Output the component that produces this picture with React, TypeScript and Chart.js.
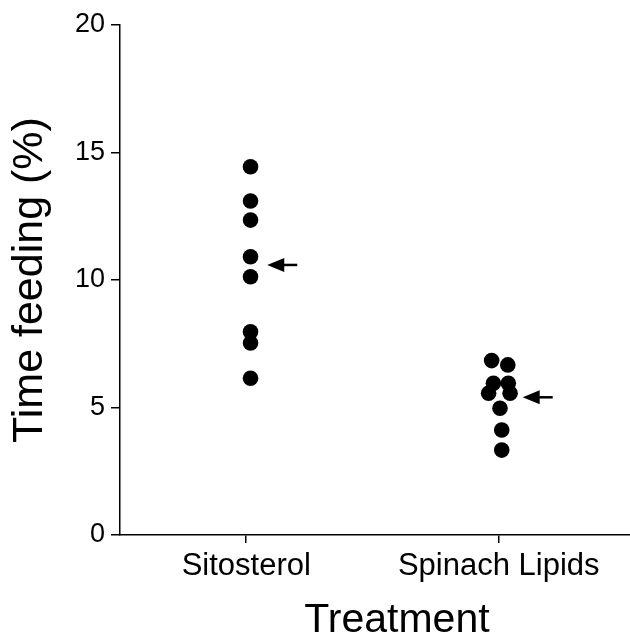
import React, { useEffect, useRef } from "react";
import { Chart, registerables } from "chart.js";

Chart.register(...registerables);

const categories = ["Sitosterol", "Spinach Lipids"];
const yTicks = [0, 5, 10, 15, 20];

const sitosterolValues = [14.44, 13.1, 12.35, 10.91, 10.13, 7.97, 7.53, 6.15];
const sitosterolJitter = [0.017, 0.017, 0.017, 0.017, 0.017, 0.017, 0.017, 0.017];

const spinachValues = [6.84, 6.67, 5.95, 5.95, 5.56, 5.56, 4.97, 4.12, 3.33];
const spinachJitter = [-0.028, 0.036, -0.021, 0.038, -0.04, 0.045, 0.005, 0.012, 0.012];

const meanValues = [10.59, 5.4];

const FONT = "'Liberation Sans', Arial, Helvetica, sans-serif";

const arrowPlugin = {
  id: "meanArrows",
  afterDatasetsDraw(chart: any) {
    const { ctx, scales } = chart;
    const xs = scales.x;
    const ys = scales.y;
    ctx.save();
    ctx.fillStyle = "#000";
    ctx.strokeStyle = "#000";
    meanValues.forEach((v, i) => {
      const cx = xs.getPixelForValue(i + 1);
      const y = ys.getPixelForValue(v);
      const tip = cx + 21 + (i === 1 ? 3 : 0);
      const headLen = 17;
      const tail = tip + 30;
      ctx.lineWidth = 2.5;
      ctx.beginPath();
      ctx.moveTo(tip + headLen - 2, y);
      ctx.lineTo(tail, y);
      ctx.stroke();
      ctx.beginPath();
      ctx.moveTo(tip, y);
      ctx.lineTo(tip + headLen, y - 7);
      ctx.lineTo(tip + headLen, y + 7);
      ctx.closePath();
      ctx.fill();
    });
    ctx.restore();
  },
};

const xTitlePlugin = {
  id: "xTitle",
  afterDraw(chart: any) {
    const { ctx, chartArea } = chart;
    ctx.save();
    ctx.fillStyle = "#000";
    ctx.font = `41px ${FONT}`;
    ctx.textAlign = "center";
    ctx.textBaseline = "alphabetic";
    const x = chartArea.left + (chartArea.right - chartArea.left) * 0.543;
    ctx.fillText("Treatment", x, chartArea.bottom + 97);
    ctx.restore();
  },
};

export default function App() {
  const ref = useRef<HTMLCanvasElement>(null);
  useEffect(() => {
    document.body.style.margin = "0";
    if (!ref.current) return;
    const chart = new Chart(ref.current, {
      type: "scatter",
      data: {
        datasets: [
          {
            label: categories[0],
            data: sitosterolValues.map((v, i) => ({ x: 1 + sitosterolJitter[i], y: v })),
            backgroundColor: "#000",
            borderWidth: 0,
            pointRadius: 7.8,
            pointHoverRadius: 7.8,
          },
          {
            label: categories[1],
            data: spinachValues.map((v, i) => ({ x: 2 + spinachJitter[i], y: v })),
            backgroundColor: "#000",
            borderWidth: 0,
            pointRadius: 7.8,
            pointHoverRadius: 7.8,
          },
        ],
      },
      options: {
        responsive: false,
        animation: false,
        events: [],
        layout: { autoPadding: false, padding: { top: 25, right: 0, left: 0, bottom: 0 } },
        plugins: { legend: { display: false }, tooltip: { enabled: false }, title: { display: false } },
        scales: {
          x: {
            type: "linear",
            min: 0.5,
            max: 2.52,
            afterBuildTicks: (s: any) => {
              s.ticks = categories.map((_, i) => ({ value: i + 1 }));
            },
            afterFit: (s: any) => {
              s.height = 104;
            },
            ticks: {
              color: "#000",
              font: { family: FONT, size: 31 },
              padding: 5,
              maxRotation: 0,
              autoSkip: false,
              callback: (v: any) => categories[Math.round(v) - 1] ?? "",
            },
            grid: {
              display: true,
              drawOnChartArea: false,
              drawTicks: true,
              tickLength: 8,
              color: "#000",
              lineWidth: 1.5,
            },
            border: { display: true, color: "#000", width: 1.5 },
          },
          y: {
            type: "linear",
            min: 0,
            max: 20,
            afterBuildTicks: (s: any) => {
              s.ticks = yTicks.map((v) => ({ value: v }));
            },
            afterFit: (s: any) => {
              s.width = 120;
            },
            ticks: {
              color: "#000",
              font: { family: FONT, size: 27 },
              padding: 6,
            },
            grid: {
              display: true,
              drawOnChartArea: false,
              drawTicks: true,
              tickLength: 9,
              color: "#000",
              lineWidth: 1.5,
            },
            border: { display: true, color: "#000", width: 1.5 },
            title: {
              display: true,
              text: "Time feeding (%)",
              color: "#000",
              font: { family: FONT, size: 43, lineHeight: 1.2 },
              padding: { top: 4, bottom: 0 },
            },
          },
        },
      },
      plugins: [arrowPlugin, xTitlePlugin],
    } as any);
    return () => chart.destroy();
  }, []);
  return (
    <div style={{ width: 630, height: 639 }}>
      <canvas ref={ref} width={630} height={639} style={{ display: "block" }} />
    </div>
  );
}
